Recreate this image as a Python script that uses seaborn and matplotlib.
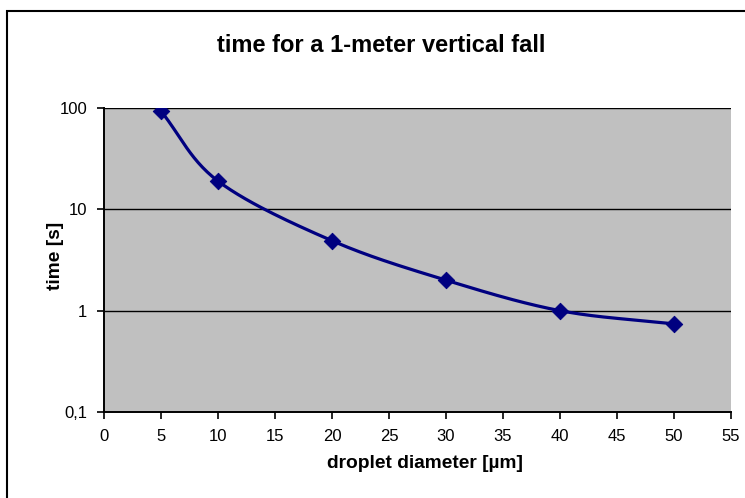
import numpy as np
import pandas as pd
import seaborn as sns
import matplotlib.pyplot as plt
from matplotlib.patches import Rectangle
from matplotlib.ticker import FixedLocator, FixedFormatter, NullLocator

# data
diameter = [5, 10, 20, 30, 40, 50]          # droplet diameter [um]
fall_time = [93, 19, 4.9, 2.0, 1.0, 0.74]   # time [s]
y_ticks = [0.1, 1, 10, 100]
y_tick_labels = ["0,1", "1", "10", "100"]
x_ticks = list(range(0, 60, 5))

sns.set_style("white")
plt.rcParams['font.family'] = ['Liberation Sans', 'DejaVu Sans']
plt.rcParams.update({"text.color": "black", "axes.labelcolor": "black",
                     "xtick.color": "black", "ytick.color": "black"})

W, H = 745, 498
fig = plt.figure(figsize=(W / 100, H / 100), dpi=100)
ax = fig.add_axes([104 / W, 1 - 412 / H, 627 / W, 304 / H])
ax.set_facecolor("#c0c0c0")


def smooth(xs, ys, n=30):
    # Excel-like smoothed line (bezier in x / log10(y) space)
    px = np.array(xs, float)
    py = np.log10(np.array(ys, float))
    px = np.concatenate([[2 * px[0] - px[1]], px, [2 * px[-1] - px[-2]]])
    py = np.concatenate([[2 * py[0] - py[1]], py, [2 * py[-1] - py[-2]]])
    out_x, out_y = [], []
    for i in range(1, len(px) - 2):
        p0, p1, p2, p3 = [np.array([px[j], py[j]]) for j in range(i - 1, i + 3)]
        c1 = p1 + (p2 - p0) / 6
        c2 = p2 - (p3 - p1) / 6
        t = np.linspace(0, 1, n)[:, None]
        b = ((1 - t) ** 3) * p1 + 3 * ((1 - t) ** 2) * t * c1 + 3 * (1 - t) * t ** 2 * c2 + t ** 3 * p2
        out_x.extend(b[:, 0])
        out_y.extend(10 ** b[:, 1])
    return out_x, out_y


sx, sy = smooth(diameter, fall_time)
curve = pd.DataFrame({"d": sx, "t": sy})
points = pd.DataFrame({"d": diameter, "t": fall_time})

ax.set_yscale("log")
for v in [1, 10, 100]:
    ax.axhline(v, color="black", lw=1.0, zorder=1)

sns.lineplot(data=curve, x="d", y="t", sort=False, color="#000080", lw=2.3, ax=ax, zorder=3)
sns.scatterplot(data=points, x="d", y="t", marker="D", s=70, color="#000080",
                edgecolor="#000080", ax=ax, zorder=4)

ax.set_xlim(0, 55)
ax.set_ylim(0.1, 100)
ax.set_xticks(x_ticks)
ax.yaxis.set_major_locator(FixedLocator(y_ticks))
ax.yaxis.set_major_formatter(FixedFormatter(y_tick_labels))
ax.yaxis.set_minor_locator(NullLocator())
ax.tick_params(axis="both", direction="out", length=5, width=1.2, color="black",
               labelcolor="black", labelsize=12, pad=7, left=True, bottom=True)

for s in ["top", "right"]:
    ax.spines[s].set_visible(False)
for s in ["left", "bottom"]:
    ax.spines[s].set_color("black")
    ax.spines[s].set_linewidth(1.4)

ax.set_xlabel("droplet diameter [µm]", fontsize=13.8, fontweight="bold", color="black")
ax.xaxis.set_label_coords((425 - 104) / 627, -0.14)
ax.set_ylabel("time [s]", fontsize=13.8, fontweight="bold", color="black")
ax.yaxis.set_label_coords((64 - 104) / 627, (412 - 256) / 304)

fig.text(381 / W, 1 - 52 / H, "time for a 1-meter vertical fall", fontsize=17,
         fontweight="bold", ha="center", va="baseline", color="black")

# chart border (only top and left edges fall inside the picture)
fig.patches.append(Rectangle((7 / W, -0.1), 1.2, 1 - 11 / H + 0.1, transform=fig.transFigure,
                             fill=False, edgecolor="black", lw=1.5))

fig.savefig("out.png", dpi=100)
